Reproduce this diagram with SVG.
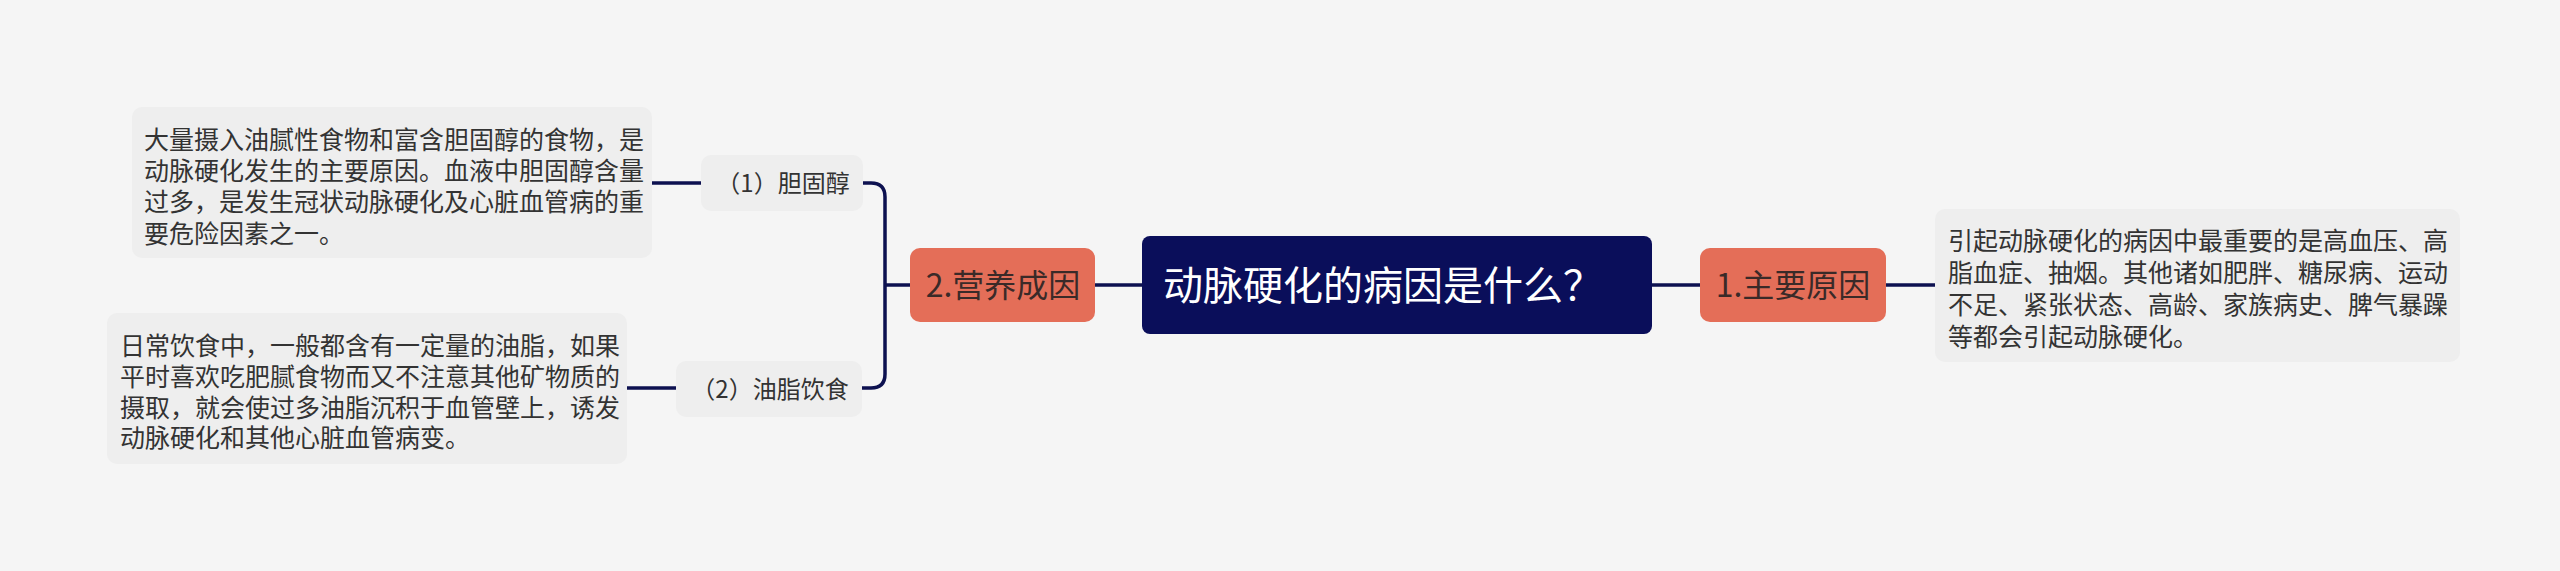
<svg xmlns="http://www.w3.org/2000/svg" width="2560" height="571" viewBox="0 0 2560 571">
<style>
.bg{fill:#f5f5f5}
.conn{fill:none;stroke:#0d1150;stroke-width:3.5}
.root{fill:#0a0e5a}
.main{fill:#e46e58}
.leaf{fill:#eeeeee}
.t{font-family:"Noto Sans CJK SC","Noto Sans",sans-serif}
.rt{fill:#ffffff;font-size:40px}
.mt{fill:#3a2a28;font-size:32px}
.lt{fill:#333333;font-size:24px}
.dt{fill:#333333;font-size:25px}
</style>
<rect class="bg" x="0" y="0" width="2560" height="571"/>
<g id="connectors">
<line class="conn" x1="1652" y1="285" x2="1700" y2="285"/>
<line class="conn" x1="1886" y1="285" x2="1935" y2="285"/>
<line class="conn" x1="1095" y1="285" x2="1142" y2="285"/>
<line class="conn" x1="885" y1="285" x2="910" y2="285"/>
<path class="conn" d="M863,183 H871 Q885,183 885,197 V374 Q885,388 871,388 H862"/>
<line class="conn" x1="652" y1="183" x2="701" y2="183"/>
<line class="conn" x1="627" y1="388" x2="676" y2="388"/>
</g>
<g id="root">
<rect class="root" x="1142" y="236" width="510" height="98" rx="8"/>
<text class="t rt" x="1163" y="300">动脉硬化的病因是什么？</text>
</g>
<g id="n1">
<rect class="main" x="1700" y="248" width="186" height="74" rx="10"/>
<text class="t mt" x="1793" y="297" text-anchor="middle">1.主要原因</text>
</g>
<g id="n1d">
<rect class="leaf" x="1935" y="209" width="525" height="153" rx="10"/>
<text class="t dt" x="1948" y="249.5">引起动脉硬化的病因中最重要的是高血压、高</text>
<text class="t dt" x="1948" y="281.5">脂血症、抽烟。其他诸如肥胖、糖尿病、运动</text>
<text class="t dt" x="1948" y="313.5">不足、紧张状态、高龄、家族病史、脾气暴躁</text>
<text class="t dt" x="1948" y="345.5">等都会引起动脉硬化。</text>
</g>
<g id="n2">
<rect class="main" x="910" y="248" width="185" height="74" rx="10"/>
<text class="t mt" x="1003" y="297" text-anchor="middle">2.营养成因</text>
</g>
<g id="n21">
<rect class="leaf" x="701" y="155" width="162" height="56" rx="10"/>
<text class="t lt" x="783" y="192" text-anchor="middle">（1）胆固醇</text>
</g>
<g id="n21d">
<rect class="leaf" x="132" y="107" width="520" height="151" rx="10"/>
<text class="t dt" x="144" y="148.5">大量摄入油腻性食物和富含胆固醇的食物，是</text>
<text class="t dt" x="144" y="180">动脉硬化发生的主要原因。血液中胆固醇含量</text>
<text class="t dt" x="144" y="211">过多，是发生冠状动脉硬化及心脏血管病的重</text>
<text class="t dt" x="144" y="242.5">要危险因素之一。</text>
</g>
<g id="n22">
<rect class="leaf" x="676" y="361" width="186" height="56" rx="10"/>
<text class="t lt" x="770" y="398" text-anchor="middle">（2）油脂饮食</text>
</g>
<g id="n22d">
<rect class="leaf" x="107" y="313" width="520" height="151" rx="10"/>
<text class="t dt" x="120" y="354.5">日常饮食中，一般都含有一定量的油脂，如果</text>
<text class="t dt" x="120" y="385.5">平时喜欢吃肥腻食物而又不注意其他矿物质的</text>
<text class="t dt" x="120" y="416.5">摄取，就会使过多油脂沉积于血管壁上，诱发</text>
<text class="t dt" x="120" y="446.5">动脉硬化和其他心脏血管病变。</text>
</g>
</svg>
